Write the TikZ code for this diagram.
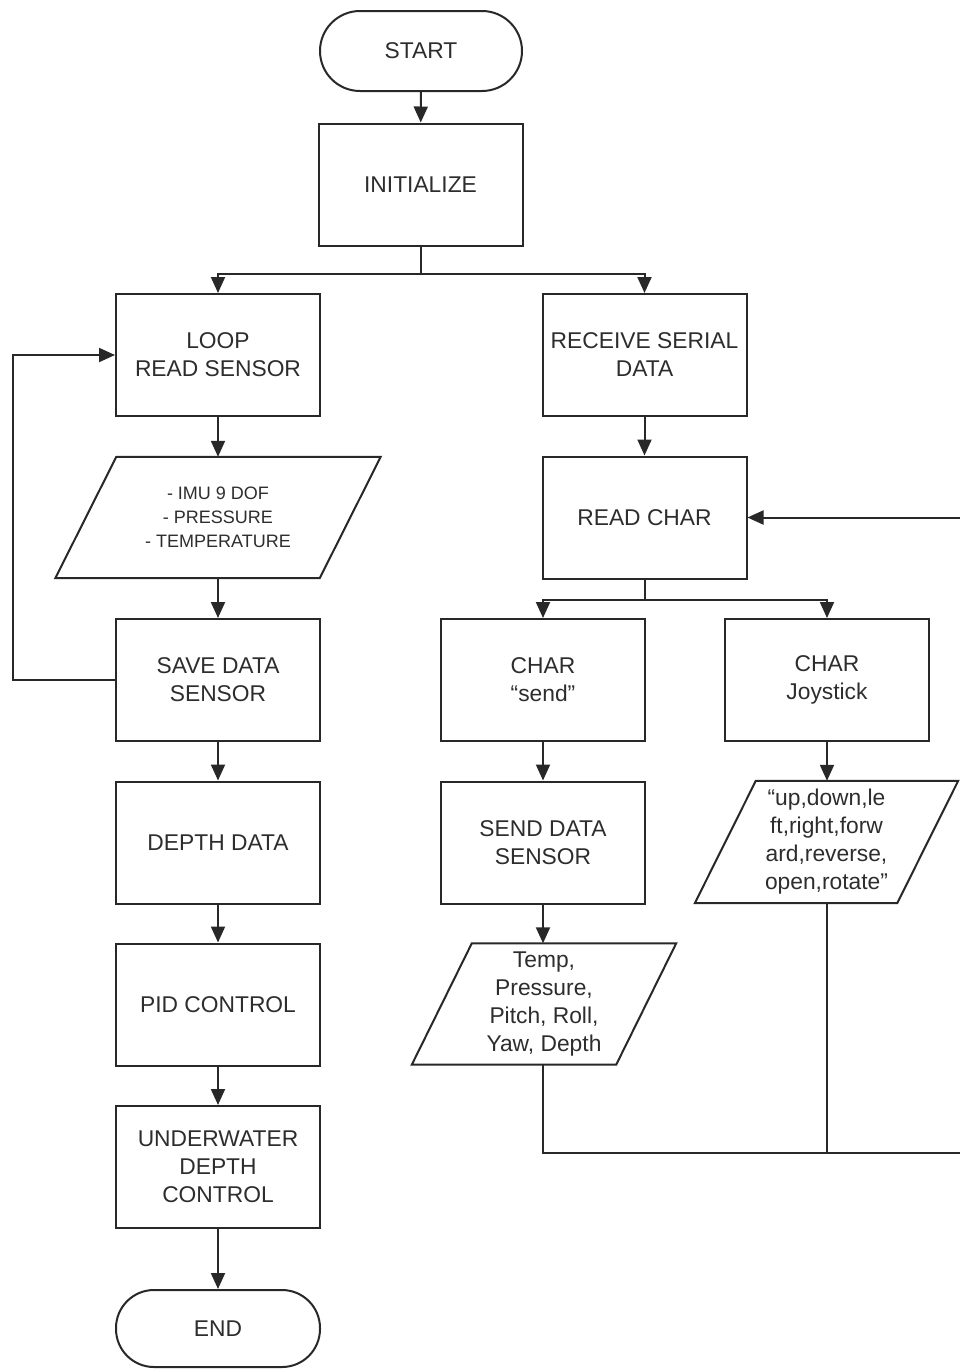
\documentclass[tikz,border=0pt]{standalone}
\usepackage{fontspec}
\setmainfont{Liberation Sans}
\usetikzlibrary{arrows.meta}
\definecolor{lc}{RGB}{40,40,40}
\definecolor{tc}{RGB}{45,45,45}
\newcommand\drawpara[2]{\draw[line] ([xshift=#2]#1.north west) -- (#1.north east) -- ([xshift=-#2]#1.south east) -- (#1.south west) -- cycle;}
\begin{document}
\begin{tikzpicture}[x=1pt,y=-1pt,
  line/.style={draw=lc,line width=2pt},
  arr/.style={line,-{Triangle[length=16pt,width=14pt]}},
  txt/.style={text=tc,font=\fontsize{22.8}{28}\selectfont,align=center,inner sep=0pt},
  box/.style={txt,line,minimum width=204pt,minimum height=122pt},
  term/.style={txt,line,rounded corners=40pt,minimum width=202pt,minimum height=80pt},
  para/.style={txt,minimum height=121pt}]
\useasboundingbox (0,0) rectangle (960,1369);
\clip (0,0) rectangle (960,1369);
\node[term] (start) at (421,51) {START};
\node[box] (init) at (420.5,184.5) {INITIALIZE};
\node[box] (loop) at (218,355) {LOOP\\READ SENSOR};
\node[box] (recv) at (644.5,355) {RECEIVE SERIAL\\DATA};
\node[para,minimum width=325pt,font=\fontsize{18}{24}\selectfont] (imu) at (218,517.5) {- IMU 9 DOF\\- PRESSURE\\- TEMPERATURE};
\drawpara{imu}{61}
\node[box] (save) at (218,680) {SAVE DATA\\SENSOR};
\node[box] (depth) at (218,842.5) {DEPTH DATA};
\node[box] (pid) at (218,1004.5) {PID CONTROL};
\node[box] (uw) at (218,1167) {UNDERWATER\\DEPTH\\CONTROL};
\node[term,minimum width=204pt,minimum height=77pt,rounded corners=38pt] (end) at (218,1328.5) {END};
\node[box] (rchar) at (644.5,517.5) {READ CHAR};
\node[box] (csend) at (543,680) {CHAR\\“send”};
\node[box] (cjoy) at (827,680) {CHAR\\Joystick};
\node[box] (sds) at (543,842.5) {SEND DATA\\SENSOR};
\node[para,minimum width=264pt] (temp) at (544,1004) {Temp,\\Pressure,\\Pitch, Roll,\\Yaw, Depth};
\drawpara{temp}{60}
\node[para,minimum width=263pt,minimum height=122pt] (joy) at (826.5,842) {“up,down,le\\ft,right,forw\\ard,reverse,\\open,rotate”};
\drawpara{joy}{61}
\coordinate (rc) at (975,1153);
% connectors
\draw[arr] (start) -- (init);
\draw[arr] (init.south) -- ++(0,27) -| (loop.north);
\draw[arr] (init.south) -- ++(0,27) -| (recv.north);
\draw[arr] (loop) -- (imu);
\draw[arr] (imu) -- (save);
\draw[arr] (save) -- (depth);
\draw[arr] (depth) -- (pid);
\draw[arr] (pid) -- (uw);
\draw[arr] (uw) -- (end);
\draw[arr] (save.west) -- ++(-102,0) |- (loop.west);
\draw[arr] (recv) -- (rchar);
\draw[arr] (rchar.south) -- ++(0,20) -| (csend.north);
\draw[arr] (rchar.south) -- ++(0,20) -| (cjoy.north);
\draw[arr] (csend) -- (sds);
\draw[arr] (sds.south) -- (sds.south |- temp.north);
\draw[arr] (cjoy) -- (joy.north -| cjoy.south);
\draw[line] (sds.south |- temp.south) |- (rc);
\draw[line] (cjoy.south |- joy.south) -- (cjoy.south |- rc);
\draw[arr] (rc) |- (rchar.east);
\end{tikzpicture}
\end{document}
